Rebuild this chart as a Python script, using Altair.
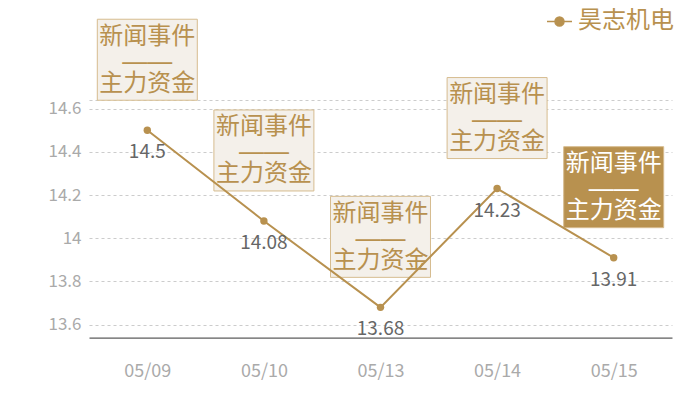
import altair as alt
import pandas as pd

dates = ["05/09", "05/10", "05/13", "05/14", "05/15"]
values = [14.5, 14.08, 13.68, 14.23, 13.91]
highlight = [False, False, False, False, True]
series = "昊志机电"
tag_top = "新闻事件"
tag_mid = "——"
tag_bottom = "主力资金"
y_ticks = [13.6, 13.8, 14.0, 14.2, 14.4, 14.6, 14.64]

GOLD = "#b8914f"
BOX_BG = "#f4f0ea"
BOX_BORDER = "#d6bc8f"
FONT = "Noto Sans CJK SC"

df = pd.DataFrame({
    "date": dates,
    "value": values,
    "hl": highlight,
    "series": [series] * len(dates),
    "t1": [tag_top] * len(dates),
    "t2": [tag_mid] * len(dates),
    "t3": [tag_bottom] * len(dates),
})

x = alt.X("date:O", sort=None, title=None,
          scale=alt.Scale(type="point", padding=0.5),
          axis=alt.Axis(labelAngle=0, ticks=False, domain=True, domainColor="#333333",
                        domainWidth=1, grid=False, labelColor="#aaaaaa",
                        labelFontSize=18, labelPadding=25, labelFont=FONT))
y = alt.Y("value:Q", title=None,
          scale=alt.Scale(domain=[13.54, 14.64], nice=False, zero=False),
          axis=alt.Axis(values=y_ticks, ticks=False, domain=False, grid=True,
                        gridColor="#cccccc", gridDash=[3, 3], gridWidth=1,
                        labelColor="#aaaaaa", labelFontSize=17, labelPadding=8,
                        labelFont=FONT,
                        labelExpr="datum.value > 14.62 ? '' : format(datum.value, '~g')"))

base = alt.Chart(df).encode(x=x, y=y)

boxes = base.mark_rect(width=100, height=81, yOffset=-70.5, stroke=BOX_BORDER,
                       strokeWidth=1).encode(
    fill=alt.condition("datum.hl", alt.value(GOLD), alt.value(BOX_BG))
)

legend_symbol = ("M-1,0L-0.4,0M0.4,0L1,0M-0.36,0A0.36,0.36,0,1,1,0.36,0"
                 "A0.36,0.36,0,1,1,-0.36,0Z")

line = base.mark_line(strokeWidth=2).encode(
    color=alt.Color("series:N", title=None,
                    scale=alt.Scale(domain=[series], range=[GOLD]),
                    legend=alt.Legend(orient="none", legendX=457, legendY=-92,
                                      symbolType=legend_symbol, symbolSize=625,
                                      symbolStrokeWidth=1.5, symbolFillColor=GOLD,
                                      symbolStrokeColor="#d4bc92", symbolOpacity=1,
                                      labelFontSize=24, labelColor=GOLD,
                                      labelLimit=300,
                                      labelFont=FONT, labelOffset=5))
)

points = base.mark_circle(size=55, opacity=1, color=GOLD)

value_labels = base.mark_text(dy=22, fontSize=19, color="#666666", font=FONT,
                              baseline="middle").encode(
    text=alt.Text("value:Q", format="~g")
)

def tag_text(field, offset, font=FONT, size=24):
    return base.mark_text(yOffset=offset, fontSize=size, font=font,
                          baseline="middle").encode(
        text=f"{field}:N",
        color=alt.condition("datum.hl", alt.value("white"), alt.value(GOLD)),
    )

chart = alt.layer(
    boxes, line, points, value_labels,
    tag_text("t1", -93.5),
    tag_text("t2", -68.5, font="Liberation Sans", size=25),
    tag_text("t3", -46.5),
).properties(
    width=583, height=237.6, autosize="none",
    padding={"left": 81, "top": 92, "right": 20, "bottom": 54},
    background="white",
).configure_view(stroke=None)

chart.save("out.html", embed_options={"renderer": "svg", "actions": False})
